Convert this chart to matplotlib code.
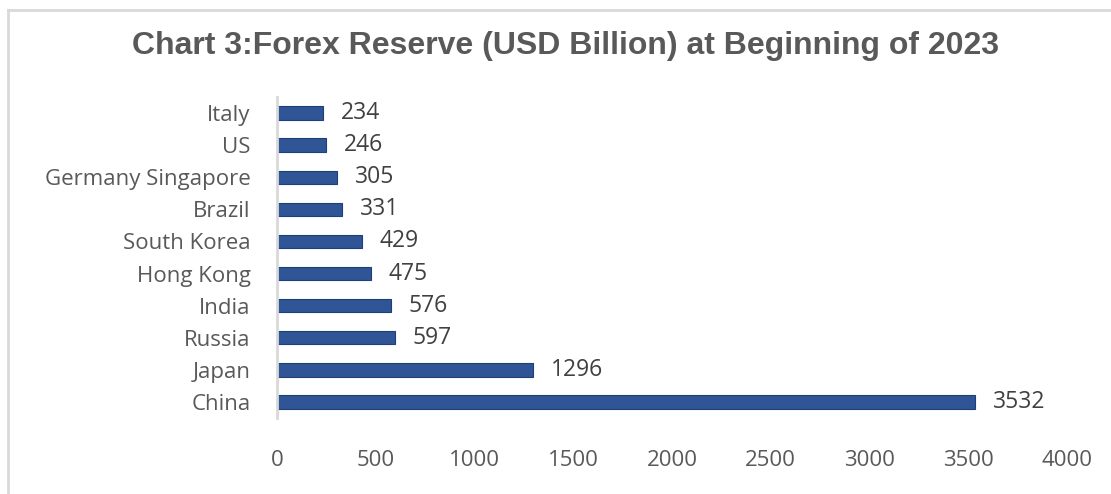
import numpy as np
import matplotlib.pyplot as plt
from matplotlib.lines import Line2D


countries = ['China', 'Japan', 'Russia', 'India', 'Hong Kong', 'South Korea',
             'Brazil', 'Germany Singapore', 'US', 'Italy']
reserves = [3532, 1296, 597, 576, 475, 429, 331, 305, 246, 234]
xticks = [0, 500, 1000, 1500, 2000, 2500, 3000, 3500, 4000]

grey = '#595959'

fig = plt.figure(figsize=(11.11, 4.94), dpi=100)
ax = fig.add_axes([277/1111, 1 - 418/494, (1067 - 277)/1111, (418 - 97)/494])

y = np.arange(len(countries))
ax.barh(y, reserves, height=0.42, color='#2F5597', edgecolor='#1F3F7A', linewidth=0.8)

for yi, v in zip(y, reserves):
    ax.annotate(str(v), (v, yi), xytext=(13, 0), textcoords='offset points',
                va='center', ha='left', fontsize=16.5, color='#404040', family='Open Sans')

ax.set_xlim(0, 4000)
ax.set_ylim(-0.5, len(countries) - 0.5)
ax.set_yticks(y)
ax.set_yticklabels(countries, family='Open Sans', fontsize=16, color=grey)
ax.set_xticks(xticks)
ax.set_xticklabels([str(t) for t in xticks], family='Open Sans', fontsize=16, color=grey)
ax.tick_params(axis='y', length=0, pad=19)
ax.tick_params(axis='x', length=0, pad=23)

for s in ['top', 'right', 'bottom']:
    ax.spines[s].set_visible(False)
ax.spines['left'].set_color('#d9d9d9')
ax.spines['left'].set_linewidth(2)

fig.text(565/1111, 1 - 46/494, 'Chart 3:Forex Reserve (USD Billion) at Beginning of 2023',
         ha='center', va='center', fontsize=23, fontweight='bold', color=grey,
         family='Liberation Sans')

# outer chart border (only top and left visible in the crop)
fig.add_artist(Line2D([8/1111, 8/1111], [0, 1 - 10/494], transform=fig.transFigure,
                      color='#d9d9d9', linewidth=2))
fig.add_artist(Line2D([8/1111, 1], [1 - 10/494, 1 - 10/494], transform=fig.transFigure,
                      color='#d9d9d9', linewidth=2))

fig.savefig('out.png', dpi=100)
